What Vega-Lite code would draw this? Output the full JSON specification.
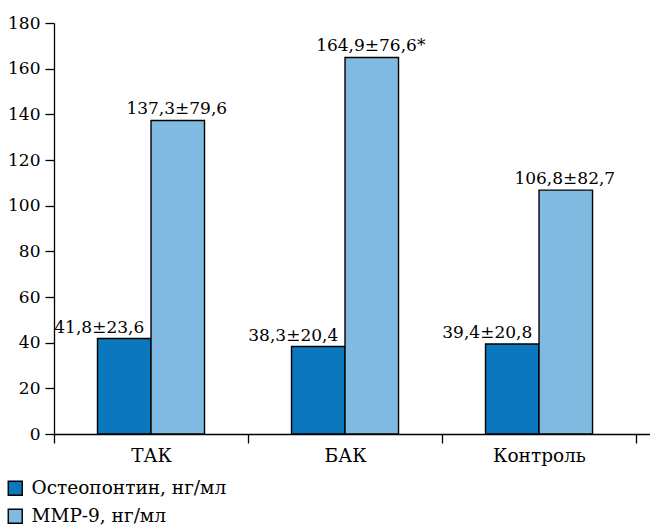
{
  "$schema": "https://vega.github.io/schema/vega-lite/v6.json",
  "width": 596,
  "height": 411,
  "autosize": {"type": "none"},
  "padding": {"left": 54, "top": 23, "right": 0, "bottom": 91},
  "background": "white",
  "config": {
    "view": {"stroke": null},
    "font": "DejaVu Serif",
    "text": {"font": "DejaVu Serif"},
    "legend": {"labelFont": "DejaVu Serif"},
    "axis": {"labelFont": "DejaVu Serif", "labelColor": "black", "domainColor": "black", "tickColor": "black", "domainWidth": 1.3, "tickWidth": 1.3, "grid": false, "title": null}
  },
  "data": {
    "values": [
      {"group": "ТАК", "series": "Остеопонтин, нг/мл", "value": 41.8, "label": "41,8±23,6"},
      {"group": "ТАК", "series": "ММР-9, нг/мл", "value": 137.3, "label": "137,3±79,6"},
      {"group": "БАК", "series": "Остеопонтин, нг/мл", "value": 38.3, "label": "38,3±20,4"},
      {"group": "БАК", "series": "ММР-9, нг/мл", "value": 164.9, "label": "164,9±76,6*"},
      {"group": "Контроль", "series": "Остеопонтин, нг/мл", "value": 39.4, "label": "39,4±20,8"},
      {"group": "Контроль", "series": "ММР-9, нг/мл", "value": 106.8, "label": "106,8±82,7"}
    ]
  },
  "encoding": {
    "x": {
      "field": "group", "type": "nominal", "sort": ["ТАК", "БАК", "Контроль"],
      "scale": {"paddingInner": 0, "paddingOuter": 0.036, "align": 0},
      "axis": {"labelAngle": 0, "labelFontSize": 18.5, "tickBand": "extent", "tickSize": 9, "labelPadding": 3}
    },
    "xOffset": {
      "field": "series", "type": "nominal", "sort": ["Остеопонтин, нг/мл", "ММР-9, нг/мл"],
      "scale": {"paddingInner": 0, "paddingOuter": 0.813}
    },
    "y": {
      "field": "value", "type": "quantitative",
      "scale": {"domain": [0, 180], "nice": false},
      "axis": {"values": [0, 20, 40, 60, 80, 100, 120, 140, 160, 180], "labelFontSize": 17, "tickSize": 9, "labelPadding": 5}
    }
  },
  "layer": [
    {
      "mark": {"type": "bar", "stroke": "black", "strokeWidth": 1.4},
      "encoding": {
        "color": {
          "field": "series", "type": "nominal",
          "scale": {"domain": ["Остеопонтин, нг/мл", "ММР-9, нг/мл"], "range": ["#0B77BD", "#80BAE0"]},
          "legend": {
            "title": null, "orient": "none", "legendX": -48, "legendY": 456, "direction": "vertical",
            "symbolType": "square", "symbolSize": 196, "symbolStrokeColor": "black", "symbolStrokeWidth": 1.4,
            "symbolOpacity": 1, "labelFontSize": 18.5, "labelColor": "black",
            "labelOffset": 7, "rowPadding": 7, "padding": 0, "labelLimit": 400
          }
        }
      }
    },
    {
      "transform": [{"filter": "datum.series === 'Остеопонтин, нг/мл'"}],
      "mark": {"type": "text", "baseline": "alphabetic", "dy": -6, "dx": -25, "fontSize": 17, "color": "black"},
      "encoding": {"text": {"field": "label"}}
    },
    {
      "transform": [{"filter": "datum.series === 'ММР-9, нг/мл'"}],
      "mark": {"type": "text", "baseline": "alphabetic", "dy": -6, "dx": -1, "fontSize": 17, "color": "black"},
      "encoding": {"text": {"field": "label"}}
    }
  ]
}
